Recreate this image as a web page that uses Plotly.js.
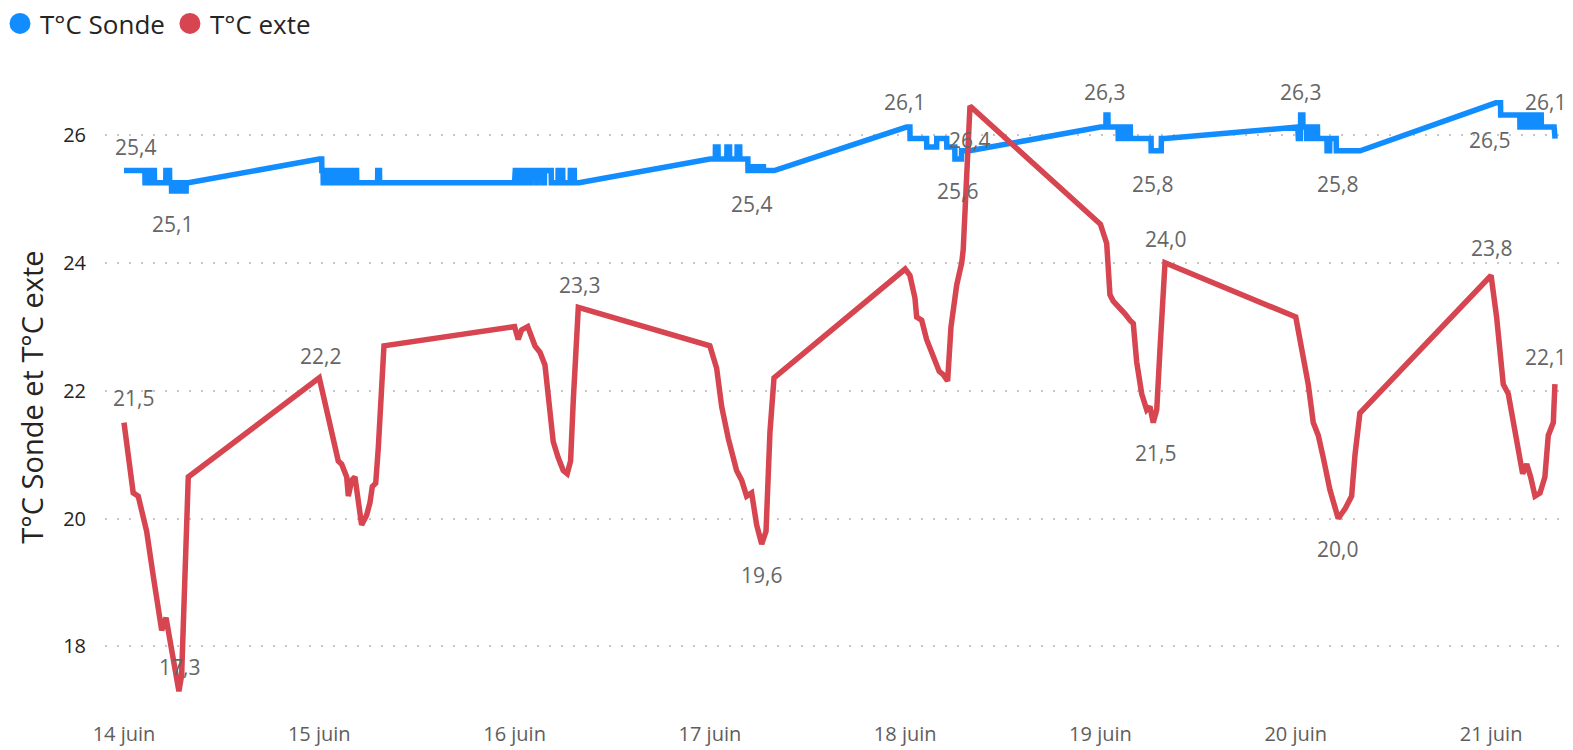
<!DOCTYPE html>
<html><head><meta charset="utf-8">
<script src="https://cdn.plot.ly/plotly-3.0.1.min.js"></script>
<style>html,body{margin:0;padding:0;background:#fff}#chart{width:1573px;height:750px}</style>
</head><body><div id="chart"></div>
<script>
// ---------- DATA ----------
const seriesNames = ["T°C Sonde", "T°C exte"];
const axisTitle = "T°C Sonde et T°C exte";
const xTickDates = ["2023-06-14","2023-06-15","2023-06-16","2023-06-17","2023-06-18","2023-06-19","2023-06-20","2023-06-21"];
const xTickLabels = ["14 juin","15 juin","16 juin","17 juin","18 juin","19 juin","20 juin","21 juin"];
const yTickValues = [18, 20, 22, 24, 26];

const sondeTimes = [
 "2023-06-14 00:00","2023-06-14 02:34","2023-06-14 02:35","2023-06-14 02:55","2023-06-14 02:56","2023-06-14 03:14","2023-06-14 03:15","2023-06-14 03:27","2023-06-14 03:28","2023-06-14 03:44","2023-06-14 03:45","2023-06-14 05:08","2023-06-14 05:09","2023-06-14 05:36","2023-06-14 05:37","2023-06-14 05:50","2023-06-14 05:51","2023-06-14 06:25","2023-06-14 06:26","2023-06-14 06:33","2023-06-14 06:34","2023-06-14 07:02","2023-06-14 07:03","2023-06-14 07:08","2023-06-14 07:09","2023-06-14 07:38","2023-06-14 07:39","2023-06-14 07:55",
 "2023-06-15 00:00","2023-06-15 00:18","2023-06-15 00:19","2023-06-15 00:28","2023-06-15 00:29","2023-06-15 00:40","2023-06-15 00:41","2023-06-15 00:58","2023-06-15 00:59","2023-06-15 01:10","2023-06-15 01:11","2023-06-15 01:30","2023-06-15 01:31","2023-06-15 01:40","2023-06-15 01:41","2023-06-15 02:00","2023-06-15 02:01","2023-06-15 02:15","2023-06-15 02:16","2023-06-15 02:35","2023-06-15 02:36","2023-06-15 02:45","2023-06-15 02:46","2023-06-15 03:05","2023-06-15 03:06","2023-06-15 03:15","2023-06-15 03:16","2023-06-15 03:35","2023-06-15 03:36","2023-06-15 03:45","2023-06-15 03:46","2023-06-15 04:05","2023-06-15 04:06","2023-06-15 04:15","2023-06-15 04:16","2023-06-15 04:35","2023-06-15 04:36","2023-06-15 07:10","2023-06-15 07:11","2023-06-15 07:24","2023-06-15 07:25","2023-06-15 07:55",
 "2023-06-16 00:00","2023-06-16 00:05","2023-06-16 00:30","2023-06-16 00:31","2023-06-16 00:40","2023-06-16 00:41","2023-06-16 01:10","2023-06-16 01:11","2023-06-16 01:20","2023-06-16 01:21","2023-06-16 01:50","2023-06-16 01:51","2023-06-16 02:00","2023-06-16 02:01","2023-06-16 02:40","2023-06-16 02:41","2023-06-16 02:50","2023-06-16 02:51","2023-06-16 03:30","2023-06-16 03:31","2023-06-16 03:40","2023-06-16 03:41","2023-06-16 04:30","2023-06-16 04:31","2023-06-16 05:20","2023-06-16 05:21","2023-06-16 05:55","2023-06-16 05:56","2023-06-16 06:50","2023-06-16 06:51","2023-06-16 07:20","2023-06-16 07:21","2023-06-16 07:55",
 "2023-06-17 00:00","2023-06-17 00:40","2023-06-17 00:41","2023-06-17 01:00","2023-06-17 01:01","2023-06-17 02:05","2023-06-17 02:06","2023-06-17 02:25","2023-06-17 02:26","2023-06-17 03:20","2023-06-17 03:21","2023-06-17 03:40","2023-06-17 03:41","2023-06-17 04:40","2023-06-17 04:41","2023-06-17 05:00","2023-06-17 05:01","2023-06-17 05:15","2023-06-17 05:16","2023-06-17 05:40","2023-06-17 05:41","2023-06-17 05:55","2023-06-17 05:56","2023-06-17 06:20","2023-06-17 06:21","2023-06-17 06:35","2023-06-17 06:36","2023-06-17 07:55",
 "2023-06-18 00:10","2023-06-18 00:35","2023-06-18 00:36","2023-06-18 02:38","2023-06-18 02:39","2023-06-18 03:52","2023-06-18 03:53","2023-06-18 05:06","2023-06-18 05:07","2023-06-18 06:06","2023-06-18 06:07","2023-06-18 06:55","2023-06-18 06:56","2023-06-18 07:55",
 "2023-06-19 00:00","2023-06-19 00:40","2023-06-19 00:41","2023-06-19 00:55","2023-06-19 00:56","2023-06-19 02:10","2023-06-19 02:11","2023-06-19 02:25","2023-06-19 02:26","2023-06-19 02:40","2023-06-19 02:41","2023-06-19 02:55","2023-06-19 02:56","2023-06-19 03:10","2023-06-19 03:11","2023-06-19 03:25","2023-06-19 03:26","2023-06-19 03:40","2023-06-19 03:41","2023-06-19 06:13","2023-06-19 06:14","2023-06-19 07:28","2023-06-19 07:29","2023-06-19 07:55",
 "2023-06-20 00:15","2023-06-20 00:19","2023-06-20 00:35","2023-06-20 00:36","2023-06-20 00:52","2023-06-20 00:53","2023-06-20 01:20","2023-06-20 01:21","2023-06-20 01:40","2023-06-20 01:41","2023-06-20 02:00","2023-06-20 02:01","2023-06-20 02:20","2023-06-20 02:21","2023-06-20 02:40","2023-06-20 02:41","2023-06-20 03:50","2023-06-20 03:51","2023-06-20 04:10","2023-06-20 04:11","2023-06-20 04:58","2023-06-20 04:59","2023-06-20 07:55",
 "2023-06-21 00:35","2023-06-21 01:10","2023-06-21 01:11","2023-06-21 03:32","2023-06-21 03:33","2023-06-21 03:50","2023-06-21 03:51","2023-06-21 04:10","2023-06-21 04:11","2023-06-21 04:30","2023-06-21 04:31","2023-06-21 04:50","2023-06-21 04:51","2023-06-21 05:10","2023-06-21 05:11","2023-06-21 05:30","2023-06-21 05:31","2023-06-21 05:50","2023-06-21 05:51","2023-06-21 06:10","2023-06-21 06:11","2023-06-21 07:45","2023-06-21 07:46","2023-06-21 07:52"
];
const sondeValues = [
 25.44,25.44,25.25,25.25,25.44,25.44,25.25,25.25,25.44,25.44,25.25,25.25,25.44,25.44,25.25,25.25,25.12,25.12,25.25,25.25,25.12,25.12,25.25,25.25,25.12,25.12,25.25,25.25,
 25.62,25.62,25.44,25.44,25.25,25.25,25.44,25.44,25.25,25.25,25.44,25.44,25.25,25.25,25.44,25.44,25.25,25.25,25.44,25.44,25.25,25.25,25.44,25.44,25.25,25.25,25.44,25.44,25.25,25.25,25.44,25.44,25.25,25.25,25.44,25.44,25.25,25.25,25.44,25.44,25.25,25.25,
 25.25,25.44,25.44,25.25,25.25,25.44,25.44,25.25,25.25,25.44,25.44,25.25,25.25,25.44,25.44,25.25,25.25,25.44,25.44,25.25,25.25,25.44,25.44,25.25,25.25,25.44,25.44,25.25,25.25,25.44,25.44,25.25,25.25,
 25.62,25.62,25.81,25.81,25.62,25.62,25.81,25.81,25.62,25.62,25.81,25.81,25.62,25.62,25.44,25.44,25.5,25.5,25.44,25.44,25.5,25.5,25.44,25.44,25.5,25.5,25.44,25.44,
 26.12,26.12,25.94,25.94,25.81,25.81,25.94,25.94,25.81,25.81,25.62,25.62,25.75,25.75,
 26.12,26.12,26.31,26.31,26.12,26.12,25.94,25.94,26.12,26.12,25.94,25.94,26.12,26.12,25.94,25.94,26.12,26.12,25.94,25.94,25.75,25.75,25.94,25.94,
 26.12,25.94,25.94,26.31,26.31,26.12,26.12,25.94,25.94,26.12,26.12,25.94,25.94,26.12,26.12,25.94,25.94,25.75,25.75,25.94,25.94,25.75,25.75,
 26.5,26.5,26.31,26.31,26.12,26.12,26.31,26.31,26.12,26.12,26.31,26.31,26.12,26.12,26.31,26.31,26.12,26.12,26.31,26.31,26.12,26.12,25.94,25.94
];

const exteTimes = [
 "2023-06-14 00:00","2023-06-14 01:08","2023-06-14 01:45","2023-06-14 02:47","2023-06-14 03:36","2023-06-14 04:13","2023-06-14 04:38","2023-06-14 05:10","2023-06-14 05:39","2023-06-14 06:16","2023-06-14 06:45","2023-06-14 07:05","2023-06-14 07:17","2023-06-14 07:37","2023-06-14 07:54",
 "2023-06-15 00:00","2023-06-15 00:55","2023-06-15 01:56","2023-06-15 02:20","2023-06-15 02:45","2023-06-15 03:22","2023-06-15 03:34","2023-06-15 03:59","2023-06-15 04:23","2023-06-15 04:47","2023-06-15 05:12","2023-06-15 05:49","2023-06-15 06:14","2023-06-15 06:31","2023-06-15 06:56","2023-06-15 07:15","2023-06-15 07:40","2023-06-15 07:57",
 "2023-06-16 00:00","2023-06-16 00:27","2023-06-16 00:52","2023-06-16 01:37","2023-06-16 02:30","2023-06-16 03:07","2023-06-16 03:44","2023-06-16 04:08","2023-06-16 04:45","2023-06-16 05:22","2023-06-16 05:59","2023-06-16 06:28","2023-06-16 06:53","2023-06-16 07:13","2023-06-16 07:38","2023-06-16 07:50",
 "2023-06-17 00:00","2023-06-17 00:50","2023-06-17 01:27","2023-06-17 02:16","2023-06-17 03:17","2023-06-17 03:54","2023-06-17 04:31","2023-06-17 05:08","2023-06-17 05:45","2023-06-17 06:22","2023-06-17 06:54","2023-06-17 07:23","2023-06-17 07:53",
 "2023-06-18 00:00","2023-06-18 00:35","2023-06-18 01:12","2023-06-18 01:25","2023-06-18 02:02","2023-06-18 02:38","2023-06-18 03:15","2023-06-18 03:40","2023-06-18 04:11","2023-06-18 04:41","2023-06-18 05:13","2023-06-18 05:38","2023-06-18 06:20","2023-06-18 06:57","2023-06-18 07:08","2023-06-18 07:58",
 "2023-06-19 00:00","2023-06-19 00:46","2023-06-19 01:10","2023-06-19 01:34","2023-06-19 02:24","2023-06-19 03:01","2023-06-19 03:37","2023-06-19 04:02","2023-06-19 04:27","2023-06-19 05:04","2023-06-19 05:41","2023-06-19 06:05","2023-06-19 06:29","2023-06-19 06:55","2023-06-19 07:19","2023-06-19 07:56",
 "2023-06-20 00:00","2023-06-20 00:55","2023-06-20 01:32","2023-06-20 02:09","2023-06-20 02:46","2023-06-20 03:23","2023-06-20 04:12","2023-06-20 05:13","2023-06-20 06:03","2023-06-20 06:52","2023-06-20 07:17","2023-06-20 07:53",
 "2023-06-21 00:00","2023-06-21 00:41","2023-06-21 01:30","2023-06-21 02:07","2023-06-21 02:44","2023-06-21 03:20","2023-06-21 03:53","2023-06-21 04:23","2023-06-21 04:52","2023-06-21 05:24","2023-06-21 06:01","2023-06-21 06:37","2023-06-21 07:02","2023-06-21 07:39","2023-06-21 07:51"
];
const exteValues = [
 21.5,20.4,20.35,19.8,19.1,18.6,18.25,18.45,18.1,17.55,17.3,17.55,18.5,19.5,20.65,
 22.2,21.7,21.1,20.9,20.85,20.65,20.35,20.6,20.65,20.3,19.9,20.05,20.25,20.5,20.55,21.1,22.1,22.7,
 23.0,22.8,22.95,23.0,22.7,22.6,22.4,21.95,21.2,20.95,20.75,20.7,20.9,21.85,23.15,23.3,
 22.7,22.35,21.75,21.25,20.75,20.6,20.35,20.4,19.9,19.6,19.8,21.35,22.2,
 23.9,23.8,23.45,23.15,23.1,22.8,22.6,22.5,22.3,22.25,22.15,23.0,23.65,24.0,24.2,26.45,
 24.6,24.3,23.5,23.4,23.3,23.2,23.1,23.05,22.45,21.95,21.7,21.75,21.5,21.7,22.65,24.0,
 23.15,22.5,22.1,21.5,21.3,20.95,20.45,20.0,20.15,20.35,21.0,21.65,
 23.8,23.15,22.1,21.95,21.5,21.0,20.7,20.85,20.65,20.35,20.4,20.65,21.3,21.5,22.1
];

// points that carry a data label
const sondeLabelTimes = ["2023-06-14 00:00","2023-06-14 06:25","2023-06-17 04:41","2023-06-18 00:10","2023-06-18 06:07","2023-06-19 00:41","2023-06-19 06:14","2023-06-20 00:36","2023-06-20 04:59","2023-06-21 00:35","2023-06-21 06:11"];
const exteLabelTimes = ["2023-06-14 00:00","2023-06-14 06:45","2023-06-15 00:00","2023-06-16 07:50","2023-06-17 06:22","2023-06-18 07:58","2023-06-19 07:56","2023-06-19 06:29","2023-06-20 05:13","2023-06-21 00:00","2023-06-21 07:51"];

// ---------- STYLE ----------
const blue = "#118DFF", red = "#D64550";
const sondeLabelShift = [[12,24],[-4,-33],[4,-33],[-2,25],[3,-32],[-2,23],[1,-33],[0,23],[1,-33],[-6,-37],[4,25]];
const exteLabelShift = [[10,25],[1,24],[1,22],[1,22],[0,-31],[0,-34],[0,24],[2,-30],[-1,-30],[0,27],[-9,27]];
const labelFont = {family:"Open Sans, sans-serif", size:21, color:"#666666"};

function fmt(v){ return v.toFixed(1).replace(".", ","); }
function makeLabels(times, values, labelTimes, shifts){
  return labelTimes.map((t, i) => {
    const k = times.indexOf(t);
    return {x:times[k], y:values[k], xref:"x", yref:"y", text:fmt(values[k]), showarrow:false,
            xanchor:"center", yanchor:"middle", xshift:shifts[i][0], yshift:shifts[i][1], font:labelFont};
  });
}

const traces = [
  {type:"scatter", mode:"markers", x:[null], y:[null], name:seriesNames[0], showlegend:true, hoverinfo:"skip",
   marker:{symbol:"circle", color:blue, size:16, line:{color:blue, width:5}}},
  {type:"scatter", mode:"markers", x:[null], y:[null], name:seriesNames[1], showlegend:true, hoverinfo:"skip",
   marker:{symbol:"circle", color:red, size:16, line:{color:red, width:5}}},
  {type:"scatter", mode:"lines", x:sondeTimes, y:sondeValues, name:seriesNames[0], showlegend:false,
   line:{color:blue, width:5.5, shape:"linear"}},
  {type:"scatter", mode:"lines", x:exteTimes, y:exteValues, name:seriesNames[1], showlegend:false,
   line:{color:red, width:5.5, shape:"linear"}}
];

const layout = {
  width:1573, height:750,
  margin:{l:105, r:6, t:90, b:45.6, autoexpand:false},
  paper_bgcolor:"#ffffff", plot_bgcolor:"#ffffff",
  font:{family:"Open Sans, sans-serif", color:"#605E5C"},
  showlegend:true,
  legend:{orientation:"h", xref:"container", yref:"container", x:0, y:1, xanchor:"left", yanchor:"top",
          font:{size:26, color:"#252423", family:"Open Sans, sans-serif"}, traceorder:"normal", bgcolor:"rgba(0,0,0,0)"},
  xaxis:{type:"date", range:["2023-06-13 21:40","2023-06-21 09:20"], tickmode:"array", tickvals:xTickDates, ticktext:xTickLabels,
         showgrid:false, zeroline:false, showline:false, ticks:"", tickfont:{size:20, color:"#605E5C"}, ticklabelstandoff:16},
  yaxis:{range:[17.1, 26.7], tickmode:"array", tickvals:yTickValues, ticktext:yTickValues.map(String),
         showgrid:true, gridcolor:"#C8C6C4", gridwidth:2, griddash:"2px,10px", zeroline:false, showline:false, ticks:"",
         tickfont:{size:20, color:"#252423"}, ticklabelstandoff:18,
         title:{text:axisTitle, font:{size:29, color:"#252423"}, standoff:10}},
  annotations: makeLabels(sondeTimes, sondeValues, sondeLabelTimes, sondeLabelShift)
                 .concat(makeLabels(exteTimes, exteValues, exteLabelTimes, exteLabelShift))
};

Plotly.newPlot("chart", traces, layout, {displayModeBar:false, staticPlot:true});
</script>
</body></html>
